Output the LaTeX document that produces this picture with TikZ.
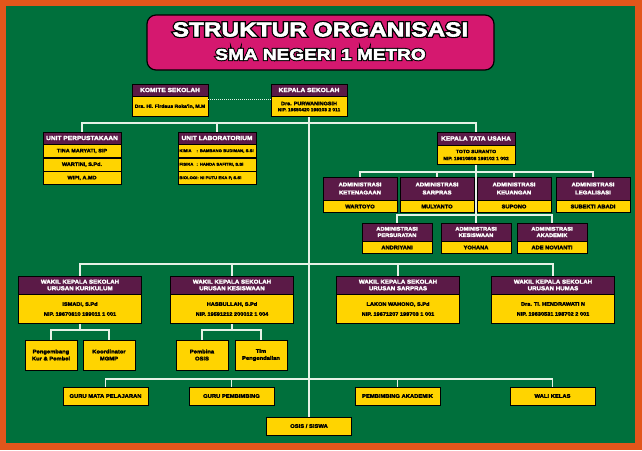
\documentclass[tikz,border=0pt]{standalone}
\usepackage{fontspec}
\setmainfont{Liberation Sans}
\newfontfamily\boxfont{Liberation Sans}[FakeStretch=1.1, BoldFeatures={FakeBold=3}]
\newfontfamily\titlefont{Liberation Sans}[FakeStretch=1.22, BoldFeatures={FakeBold=3}]
\newfontfamily\titlerim{Liberation Sans}[FakeStretch=1.22, BoldFeatures={FakeBold=16}]
\usepackage{tikz}
\usetikzlibrary{positioning}
\definecolor{framecol}{HTML}{E2561B}
\definecolor{fieldcol}{HTML}{00703C}
\definecolor{titlecol}{HTML}{D5186F}
\definecolor{hdrcol}{HTML}{5B1A47}
\definecolor{cellcol}{HTML}{FFD400}
\definecolor{linecol}{HTML}{E6F2E6}
\tikzset{
  hdr/.style={draw=black, fill=hdrcol, text=white, inner sep=0pt, align=center,
    line width=0.5pt, font=\boxfont\bfseries\fontsize{6}{7}\selectfont},
  cell/.style={draw=black, fill=cellcol, text=black, inner sep=0pt, align=center,
    line width=0.5pt, font=\boxfont\bfseries\fontsize{5}{6.5}\selectfont},
  link/.style={draw=linecol, line width=1.1pt},
  titletext/.style={text=white, inner sep=0pt},
  titleshade/.style={text=black, inner sep=0pt},
}
\begin{document}
\begin{tikzpicture}[x=1pt,y=-1pt]
\fill[framecol] (0,0) rectangle (642,450);
\fill[fieldcol] (6,6) rectangle (635,443);

% judul
\node[draw=black, line width=1.2pt, fill=titlecol, rounded corners=9pt,
  minimum width=347pt, minimum height=55pt] (title) at (320.5,42.5) {};
\node[titleshade, font=\titlerim\bfseries\fontsize{20}{20}\selectfont] (t1s) at (320.5,29.5) {STRUKTUR ORGANISASI};
\node[titletext, font=\titlefont\bfseries\fontsize{20}{20}\selectfont] (t1) at (320.5,29.5) {STRUKTUR ORGANISASI};
\node[titleshade, font=\titlerim\bfseries\fontsize{15.6}{16}\selectfont] (t2s) at (320.5,54.5) {SMA NEGERI 1 METRO};
\node[titletext, font=\titlefont\bfseries\fontsize{15.6}{16}\selectfont] (t2) at (320.5,54.5) {SMA NEGERI 1 METRO};

% komite dan kepala sekolah
\node[hdr, minimum width=76pt, minimum height=12pt] (komh) at (170,90) {KOMITE SEKOLAH};
\node[cell, below=0pt of komh, minimum width=76pt, minimum height=20pt, font=\boxfont\bfseries\fontsize{4.6}{6}\selectfont] (komy) {Drs. Hi. Firdaus Roka'in, M.M};
\node[hdr, minimum width=76pt, minimum height=12pt] (keph) at (309,90) {KEPALA SEKOLAH};
\node[cell, below=0pt of keph, minimum width=76pt, minimum height=20pt] (kepy) {Drs. PURWANINGSIH\\[-0.5pt]{\fontsize{4.4}{5}\selectfont NIP. 19650420 199103 2 011}};

% unit
\node[hdr, minimum width=78pt, minimum height=12pt] (perh) at (82,138) {UNIT PERPUSTAKAAN};
\node[cell, below=0pt of perh, minimum width=78pt, minimum height=13pt] (per1) {TINA MARYATI, SIP};
\node[cell, below=0pt of per1, minimum width=78pt, minimum height=13pt] (per2) {WARTINI, S.Pd.};
\node[cell, below=0pt of per2, minimum width=78pt, minimum height=13pt] (per3) {WIPI, A.MD};
\node[hdr, minimum width=78pt, minimum height=12pt] (labh) at (217,138) {UNIT LABORATORIUM};
\tikzset{labrow/.style={cell, minimum width=78pt, minimum height=13pt, align=left, text width=75pt, inner xsep=1.5pt, font=\boxfont\bfseries\fontsize{3.85}{4.5}\selectfont}}
\node[labrow, below=0pt of labh] (lab1) {\makebox[17pt][l]{KIMIA}: BAMBANG BUDIMAN, S.Si};
\node[labrow, below=0pt of lab1] (lab2) {\makebox[17pt][l]{FISIKA}: HANDA SAFITRI, S.Si};
\node[labrow, below=0pt of lab2] (lab3) {BIOLOGI: NI PUTU EKA P, S.Si};

% tata usaha
\node[hdr, minimum width=78pt, minimum height=13pt] (tuh) at (476,138.5) {KEPALA TATA USAHA};
\node[cell, below=0pt of tuh, minimum width=78pt, minimum height=19pt, font=\boxfont\bfseries\fontsize{4.6}{7}\selectfont] (tuy) {TOTO SURANTO\\NIP. 19610808 199102 1 002};

\tikzset{admh/.style={hdr, minimum width=74pt, minimum height=23pt, font=\boxfont\bfseries\fontsize{5.4}{8}\selectfont},
  admy/.style={cell, minimum width=74pt, minimum height=12pt, font=\boxfont\bfseries\fontsize{5.2}{6}\selectfont}}
\node[admh] (adm1h) at (360,188.5) {ADMINISTRASI\\KETENAGAAN};
\node[admy, below=0pt of adm1h] (adm1y) {WARTOYO};
\node[admh] (adm2h) at (437,188.5) {ADMINISTRASI\\SARPRAS};
\node[admy, below=0pt of adm2h] (adm2y) {MULYANTO};
\node[admh] (adm3h) at (514,188.5) {ADMINISTRASI\\KEUANGAN};
\node[admy, below=0pt of adm3h] (adm3y) {SUPONO};
\node[admh] (adm4h) at (593,188.5) {ADMINISTRASI\\LEGALISASI};
\node[admy, below=0pt of adm4h] (adm4y) {SUBEKTI ABADI};
\node[admh, minimum width=70pt, minimum height=18pt, font=\boxfont\bfseries\fontsize{5.2}{6.4}\selectfont] (adm5h) at (397,232) {ADMINISTRASI\\PERSURATAN};
\node[admy, minimum width=70pt, below=0pt of adm5h] (adm5y) {ANDRIYANI};
\node[admh, minimum width=70pt, minimum height=18pt, font=\boxfont\bfseries\fontsize{5.2}{6.4}\selectfont] (adm6h) at (476,232) {ADMINISTRASI\\KESISWAAN};
\node[admy, minimum width=70pt, below=0pt of adm6h] (adm6y) {YOHANA};
\node[admh, minimum width=70pt, minimum height=18pt, font=\boxfont\bfseries\fontsize{5.2}{6.4}\selectfont] (adm7h) at (552,232) {ADMINISTRASI\\AKADEMIK};
\node[admy, minimum width=70pt, below=0pt of adm7h] (adm7y) {ADE NOVIANTI};

% wakil kepala sekolah
\tikzset{wkh/.style={hdr, minimum width=123pt, minimum height=18pt, font=\boxfont\bfseries\fontsize{5.6}{6.6}\selectfont},
  wky/.style={cell, minimum width=123pt, minimum height=29pt, font=\boxfont\bfseries\fontsize{5.1}{10}\selectfont}}
\node[wkh] (wk1h) at (80,285) {WAKIL KEPALA SEKOLAH\\URUSAN KURIKULUM};
\node[wky, below=0pt of wk1h] (wk1y) {ISMADI, S.Pd\\NIP. 19670610 199011 1 001};
\node[wkh] (wk2h) at (232,285) {WAKIL KEPALA SEKOLAH\\URUSAN KESISWAAN};
\node[wky, below=0pt of wk2h] (wk2y) {HASBULLAH, S.Pd\\NIP. 19591212 200012 1 004};
\node[wkh] (wk3h) at (398,285) {WAKIL KEPALA SEKOLAH\\URUSAN SARPRAS};
\node[wky, below=0pt of wk3h] (wk3y) {LAKON WAHONO, S.Pd\\NIP. 19671207 199703 1 001};
\node[wkh] (wk4h) at (553,285) {WAKIL KEPALA SEKOLAH\\URUSAN HUMAS};
\node[wky, below=0pt of wk4h] (wk4y) {Drs. TI. HENDRAWATI N\\NIP. 19630531 198702 2 001};

\tikzset{subbox/.style={cell, minimum width=52pt, minimum height=30pt, font=\boxfont\bfseries\fontsize{5.3}{7}\selectfont}}
\node[subbox] (pkp) at (51,355) {Pengembang\\Kur \& Pembel};
\node[subbox] (mgmp) at (109,355) {Koordinator\\MGMP};
\node[subbox] (posis) at (202,355) {Pembina\\OSIS};
\node[subbox] (tim) at (261,355) {Tim\\Pengendalian};

% guru dan siswa
\tikzset{guru/.style={cell, minimum width=85pt, minimum height=18pt, font=\boxfont\bfseries\fontsize{5.3}{6}\selectfont}}
\node[guru] (gmp) at (105.5,396) {GURU MATA PELAJARAN};
\node[guru] (gbk) at (231.5,396) {GURU PEMBIMBING};
\node[guru] (pak) at (397.5,396) {PEMBIMBING AKADEMIK};
\node[guru] (wali) at (552.5,396) {WALI KELAS};
\node[guru] (osis) at (309,426) {OSIS / SISWA};

% garis
\coordinate (bus1) at (309,123);
\coordinate (bustu) at (476,172);
\coordinate (busadm) at (476,215);
\coordinate (buswk) at (309,264);
\coordinate (buskur) at (80,330);
\coordinate (buskes) at (232,330);
\coordinate (busguru) at (309,379);
\draw[link, dash pattern=on 1pt off 1pt] ([yshift=7pt]komy.east) -- ([yshift=7pt]kepy.west);
\draw[link] (kepy.south) -- (osis.north);
\draw[link] (perh.north) |- (bus1) -| (tuh.north);
\draw[link] (labh.north) -- (labh.north |- bus1);
\draw[link] (tuy.south) -- (adm6h.north);
\draw[link] (adm1h.north) |- (bustu) -| (adm4h.north);
\foreach \n in {adm2h,adm3h}
  \draw[link] (\n.north) -- (\n.north |- bustu);
\draw[link] (adm5h.north) |- (busadm) -| (adm7h.north);
\draw[link] (wk1h.north) |- (buswk) -| (wk4h.north);
\foreach \n in {wk2h,wk3h}
  \draw[link] (\n.north) -- (\n.north |- buswk);
\draw[link] (wk1y.south) -- (buskur);
\draw[link] (pkp.north) |- (buskur) -| (mgmp.north);
\draw[link] (wk2y.south) -- (buskes);
\draw[link] (posis.north) |- (buskes) -| (tim.north);
\draw[link] (gmp.north) |- (busguru) -| (wali.north);
\foreach \n in {gbk,pak}
  \draw[link] (\n.north) -- (\n.north |- busguru);
\end{tikzpicture}
\end{document}
